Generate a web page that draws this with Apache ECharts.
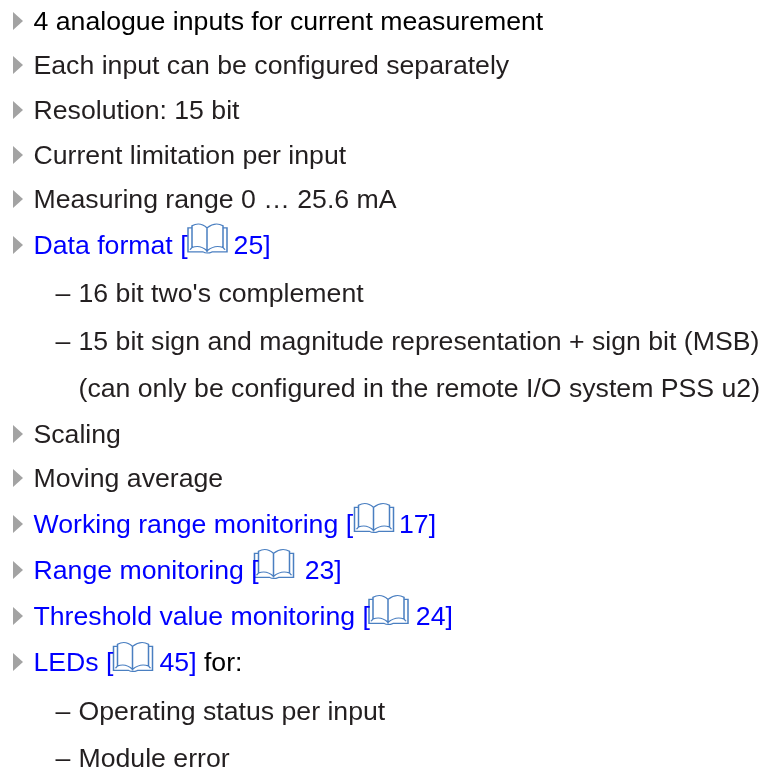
<!DOCTYPE html>
<html>
<head>
<meta charset="utf-8">
<style>
  html, body { margin: 0; padding: 0; background: #fff; }
  #main { width: 762px; height: 769px; }
</style>
</head>
<body>
<div id="main"></div>
<script src="https://cdn.jsdelivr.net/npm/echarts@6/dist/echarts.min.js"></script>
<script>
// list rows, top to bottom
const bulletText = [
  "{first|4 analogue inputs for current measurement}",
  "Each input can be configured separately",
  "Resolution: 15 bit",
  "Current limitation per input",
  "Measuring range 0 … 25.6 mA",
  "{link|Data format [}{gapA| }{link|25]}",
  "Scaling",
  "Moving average",
  "{link|Working range monitoring [}{gapA| }{link|17]}",
  "{link|Range monitoring [}{gapA| }{link|23]}",
  "{link|Threshold value monitoring [}{gapA| }{link|24]}",
  "{link|LEDs [}{gapA| }{link|45]}{first| for:}"
];
const bulletRow = [21, 65, 110, 155, 199, 245, 434, 478, 524, 570, 616, 662];

const subText = [
  "16 bit two's complement",
  "15 bit sign and magnitude representation + sign bit (MSB)",
  "Operating status per input",
  "Module error"
];
const subRow = [293, 341, 711, 758];

const noteText = ["(can only be configured in the remote I/O system PSS u2)"];
const noteRow = [388];

// page reference icons
const bookCol = [207.5, 374, 274, 388.5, 133];
const bookRow = [238.5, 518, 564, 610, 657];

const bookPath = "path://M4,3Q12,-1 19,5L19,26Q12,20 4,23ZM19,5Q27,-1 35,3L35,23Q27,20 19,26ZM4,5L0,5L0,27L15,27Q19,29 24,27L39,27L39,5L35,5M4,23L2,25M35,23L37,25";
const arrowPath = "path://M0,0L10,9L0,18Z";

const textFont = "Liberation Sans";
const textSize = 26.67;
const richStyles = {
  link: { color: "#0000ff", fontSize: textSize, fontFamily: textFont },
  first: { color: "#000000", fontSize: textSize, fontFamily: textFont },
  gapA: { width: 46, fontSize: textSize, fontFamily: textFont }
};

function textSeries(col, rows, texts) {
  return {
    type: "scatter",
    silent: true,
    symbolSize: 1,
    itemStyle: { color: "transparent", opacity: 1 },
    data: rows.map((y, i) => [col, y, texts[i]]),
    label: {
      show: true,
      position: "right",
      distance: 0,
      offset: [0, 2],
      color: "#231f20",
      fontSize: textSize,
      fontFamily: textFont,
      formatter: p => p.value[2],
      rich: richStyles
    }
  };
}

const chart = echarts.init(document.getElementById("main"));
chart.setOption({
  animation: false,
  backgroundColor: "#fff",
  grid: { left: 0, right: 0, top: 0, bottom: 0 },
  xAxis: { type: "value", min: 0, max: 762, show: false },
  yAxis: { type: "value", min: 0, max: 769, inverse: true, show: false },
  series: [
    {
      type: "scatter",
      silent: true,
      symbol: arrowPath,
      symbolSize: [10, 18],
      itemStyle: { color: "#a3a3a3", opacity: 1 },
      data: bulletRow.map(y => [18, y])
    },
    {
      type: "scatter",
      silent: true,
      symbol: bookPath,
      symbolSize: [39, 29],
      itemStyle: { color: "rgba(255,255,255,0)", borderColor: "#4a7fc1", borderWidth: 1.3, opacity: 1 },
      data: bookRow.map((y, i) => [bookCol[i], y])
    },
    textSeries(33, bulletRow, bulletText),
    textSeries(55, subRow, subText.map(() => "–")),
    textSeries(78, subRow, subText),
    textSeries(78, noteRow, noteText)
  ]
});
</script>
</body>
</html>
